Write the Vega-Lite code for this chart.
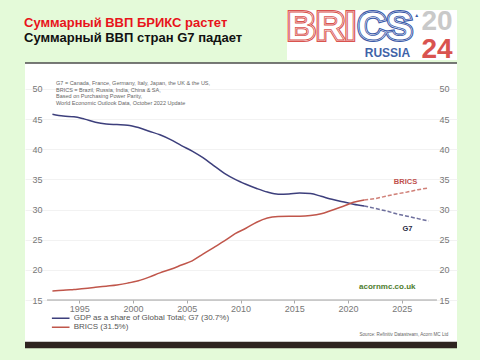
{
 "$schema": "https://vega.github.io/schema/vega-lite/v6.json",
 "width": 432, "height": 285,
 "autosize": {"type": "none"},
 "padding": {"left": 25, "top": 63, "right": 23, "bottom": 12},
 "background": "#e4fad9",
 "config": {"view": {"fill": "white", "stroke": null}, "font": "Liberation Sans"},
 "datasets": {
  "gdp": [
   {"date":"1992-07-01","series":"G7","value":45.8},{"date":"1993-07-01","series":"G7","value":45.5},{"date":"1994-07-01","series":"G7","value":45.4},{"date":"1995-07-01","series":"G7","value":45.0},{"date":"1996-07-01","series":"G7","value":44.5},{"date":"1997-07-01","series":"G7","value":44.2},{"date":"1998-07-01","series":"G7","value":44.1},{"date":"1999-07-01","series":"G7","value":44.0},{"date":"2000-07-01","series":"G7","value":43.6},{"date":"2001-07-01","series":"G7","value":43.0},{"date":"2002-07-01","series":"G7","value":42.4},{"date":"2003-07-01","series":"G7","value":41.6},{"date":"2004-07-01","series":"G7","value":40.6},{"date":"2005-07-01","series":"G7","value":39.7},{"date":"2006-07-01","series":"G7","value":38.6},{"date":"2007-07-01","series":"G7","value":37.3},{"date":"2008-07-01","series":"G7","value":36.0},{"date":"2009-07-01","series":"G7","value":35.0},{"date":"2010-07-01","series":"G7","value":34.2},{"date":"2011-07-01","series":"G7","value":33.5},{"date":"2012-07-01","series":"G7","value":32.9},{"date":"2013-07-01","series":"G7","value":32.55},{"date":"2014-07-01","series":"G7","value":32.6},{"date":"2015-07-01","series":"G7","value":32.75},{"date":"2016-07-01","series":"G7","value":32.65},{"date":"2017-07-01","series":"G7","value":32.2},{"date":"2018-07-01","series":"G7","value":31.7},{"date":"2019-07-01","series":"G7","value":31.3},{"date":"2020-07-01","series":"G7","value":30.9},{"date":"2021-07-01","series":"G7","value":30.6},{"date":"2022-07-01","series":"G7","value":30.2},{"date":"2023-07-01","series":"G7","value":29.8},{"date":"2024-07-01","series":"G7","value":29.3},{"date":"2025-07-01","series":"G7","value":28.9},{"date":"2026-07-01","series":"G7","value":28.5},{"date":"2027-07-01","series":"G7","value":28.1},
   {"date":"1992-07-01","series":"BRICS","value":16.5},{"date":"1993-07-01","series":"BRICS","value":16.6},{"date":"1994-07-01","series":"BRICS","value":16.75},{"date":"1995-07-01","series":"BRICS","value":16.9},{"date":"1996-07-01","series":"BRICS","value":17.1},{"date":"1997-07-01","series":"BRICS","value":17.3},{"date":"1998-07-01","series":"BRICS","value":17.5},{"date":"1999-07-01","series":"BRICS","value":17.8},{"date":"2000-07-01","series":"BRICS","value":18.2},{"date":"2001-07-01","series":"BRICS","value":18.8},{"date":"2002-07-01","series":"BRICS","value":19.5},{"date":"2003-07-01","series":"BRICS","value":20.1},{"date":"2004-07-01","series":"BRICS","value":20.8},{"date":"2005-07-01","series":"BRICS","value":21.5},{"date":"2006-07-01","series":"BRICS","value":22.6},{"date":"2007-07-01","series":"BRICS","value":23.7},{"date":"2008-07-01","series":"BRICS","value":24.8},{"date":"2009-07-01","series":"BRICS","value":26.0},{"date":"2010-07-01","series":"BRICS","value":26.9},{"date":"2011-07-01","series":"BRICS","value":27.9},{"date":"2012-07-01","series":"BRICS","value":28.6},{"date":"2013-07-01","series":"BRICS","value":28.85},{"date":"2014-07-01","series":"BRICS","value":28.9},{"date":"2015-07-01","series":"BRICS","value":28.9},{"date":"2016-07-01","series":"BRICS","value":29.0},{"date":"2017-07-01","series":"BRICS","value":29.3},{"date":"2018-07-01","series":"BRICS","value":29.9},{"date":"2019-07-01","series":"BRICS","value":30.5},{"date":"2020-07-01","series":"BRICS","value":31.2},{"date":"2021-07-01","series":"BRICS","value":31.6},{"date":"2022-07-01","series":"BRICS","value":31.8},{"date":"2023-07-01","series":"BRICS","value":32.2},{"date":"2024-07-01","series":"BRICS","value":32.6},{"date":"2025-07-01","series":"BRICS","value":32.9},{"date":"2026-07-01","series":"BRICS","value":33.3},{"date":"2027-07-01","series":"BRICS","value":33.6}
  ]
 },
 "resolve": {"axis": {"x": "independent", "y": "independent"}, "legend": {"color": "independent"}},
 "layer": [
  {
   "data": {"name": "gdp"},
   "transform": [{"filter": "year(datum.date) <= 2021"}],
   "mark": {"type": "line", "strokeWidth": 1.5, "interpolate": "monotone"},
   "encoding": {
    "x": {"field": "date", "type": "temporal", "scale": {"domain": [{"year":1989,"month":12,"date":12},{"year":2030,"month":2,"date":18}], "nice": false},
      "axis": {"orient": "bottom", "offset": -48, "values": [{"year":1995},{"year":2000},{"year":2005},{"year":2010},{"year":2015},{"year":2020},{"year":2025}], "format": "%Y", "domain": false, "tickSize": 3, "tickColor": "#aaaaaa", "labelPadding": 1, "labelFontSize": 9, "labelColor": "#777777", "labelFont": "Liberation Sans", "grid": false, "title": null}},
    "y": {"field": "value", "type": "quantitative", "scale": {"domain": [7.04, 54.31], "nice": false, "zero": false},
      "axis": {"orient": "left", "offset": -20, "values": [15,20,25,30,35,40,45,50], "domain": false, "ticks": false, "labelPadding": 3, "labelFontSize": 9, "labelColor": "#777777", "labelFont": "Liberation Sans", "grid": true, "gridColor": "#f2f2f2", "title": null}},
    "color": {"field": "series", "type": "nominal", "scale": {"domain": ["G7", "BRICS"], "range": ["#3d3f7c", "#c0564b"]},
      "legend": {"orient": "none", "legendX": 25.7, "legendY": 251.5, "direction": "vertical", "title": null, "symbolType": "stroke", "symbolSize": 310, "symbolStrokeWidth": 1.5, "clipHeight": 7.5, "rowPadding": 0, "padding": 0, "labelOffset": 3, "labelFontSize": 8, "labelColor": "#555555", "labelFont": "Liberation Sans",
        "labelExpr": "datum.label == 'G7' ? 'GDP as a share of Global Total; G7 (30.7%)' : 'BRICS (31.5%)'"}}
   }
  },
  {
   "data": {"name": "gdp"},
   "transform": [{"filter": "year(datum.date) >= 2021"}],
   "mark": {"type": "line", "strokeWidth": 1.5, "strokeDash": [4, 2], "opacity": 0.75},
   "encoding": {
    "x": {"field": "date", "type": "temporal", "scale": {"domain": [{"year":1989,"month":12,"date":12},{"year":2030,"month":2,"date":18}], "nice": false}, "axis": null},
    "y": {"field": "value", "type": "quantitative", "scale": {"domain": [7.04, 54.31], "nice": false, "zero": false},
      "axis": {"orient": "right", "offset": -20, "values": [15,20,25,30,35,40,45,50], "domain": false, "ticks": false, "labelPadding": 2, "labelFontSize": 9, "labelColor": "#777777", "labelFont": "Liberation Sans", "grid": false, "title": null}},
    "color": {"field": "series", "type": "nominal", "scale": {"domain": ["G7", "BRICS"], "range": ["#3d3f7c", "#c0564b"]}, "legend": null}
   }
  },
  {
   "data": {"values": [{}]},
   "mark": {"type": "rule", "stroke": "#a0a0a0", "strokeWidth": 1},
   "encoding": {
    "x": {"datum": {"year":1992,"month":1,"date":1}, "type": "temporal", "scale": {"domain": [{"year":1989,"month":12,"date":12},{"year":2030,"month":2,"date":18}], "nice": false}, "axis": null},
    "x2": {"datum": {"year":2028,"month":4,"date":7}},
    "y": {"datum": 15, "type": "quantitative", "scale": {"domain": [7.04, 54.31], "nice": false, "zero": false}, "axis": null}
   }
  },
  {
   "data": {"values": [{}]},
   "mark": {"type": "rule", "stroke": "#4d4d4d", "strokeWidth": 1.5},
   "encoding": {
    "x": {"datum": {"year":1989,"month":12,"date":12}, "type": "temporal", "scale": {"domain": [{"year":1989,"month":12,"date":12},{"year":2030,"month":2,"date":18}], "nice": false}, "axis": null},
    "x2": {"datum": {"year":2030,"month":2,"date":18}},
    "y": {"datum": 54.31, "type": "quantitative", "scale": {"domain": [7.04, 54.31], "nice": false, "zero": false}, "axis": null}
   }
  },
  {
   "data": {"values": [{}]},
   "mark": {"type": "rect", "fill": "#2e2420"},
   "encoding": {
    "x": {"datum": {"year":1989,"month":12,"date":12}, "type": "temporal", "scale": {"domain": [{"year":1989,"month":12,"date":12},{"year":2030,"month":2,"date":18}], "nice": false}, "axis": null},
    "x2": {"datum": {"year":2030,"month":2,"date":18}},
    "y": {"datum": 8.08, "type": "quantitative", "scale": {"domain": [7.04, 54.31], "nice": false, "zero": false}, "axis": null},
    "y2": {"datum": 7.0}
   }
  },
  {
   "data": {"values": [{}]},
   "mark": {"type": "rect", "fill": "white"},
   "encoding": {
    "x": {"datum": {"year":2014,"month":4,"date":27}, "type": "temporal", "scale": {"domain": [{"year":1989,"month":12,"date":12},{"year":2030,"month":2,"date":18}], "nice": false}, "axis": null},
    "x2": {"datum": {"year":2030,"month":2,"date":18}},
    "y": {"datum": 54.81, "type": "quantitative", "scale": {"domain": [7.04, 54.31], "nice": false, "zero": false}, "axis": null},
    "y2": {"datum": 63.1}
   }
  },
  {
   "data": {"values": [{}]},
   "mark": {"type": "text", "text": "BRI", "align": "left", "baseline": "bottom", "fontSize": 40, "fontWeight": "bold", "font": "Liberation Sans", "fill": "#d9534f", "stroke": "#d9534f", "strokeWidth": 4},
   "encoding": {
    "x": {"datum": {"year":2014,"month":4,"date":27}, "type": "temporal", "scale": {"domain": [{"year":1989,"month":12,"date":12},{"year":2030,"month":2,"date":18}], "nice": false}, "axis": null},
    "y": {"datum": 56.8, "type": "quantitative", "scale": {"domain": [7.04, 54.31], "nice": false, "zero": false}, "axis": null}
   }
  },
  {
   "data": {"values": [{}]},
   "mark": {"type": "text", "text": "CS", "align": "right", "baseline": "bottom", "fontSize": 40, "fontWeight": "bold", "font": "Liberation Sans", "fill": "#3c5ba9", "stroke": "#3c5ba9", "strokeWidth": 4},
   "encoding": {
    "x": {"datum": {"year":2026,"month":1,"date":15}, "type": "temporal", "scale": {"domain": [{"year":1989,"month":12,"date":12},{"year":2030,"month":2,"date":18}], "nice": false}, "axis": null},
    "y": {"datum": 56.8, "type": "quantitative", "scale": {"domain": [7.04, 54.31], "nice": false, "zero": false}, "axis": null}
   }
  },
  {
   "data": {"values": [{}]},
   "mark": {"type": "text", "text": "BRI", "align": "left", "baseline": "bottom", "fontSize": 40, "fontWeight": "bold", "font": "Liberation Sans", "fill": "white", "stroke": "white", "strokeWidth": 1.6},
   "encoding": {
    "x": {"datum": {"year":2014,"month":4,"date":27}, "type": "temporal", "scale": {"domain": [{"year":1989,"month":12,"date":12},{"year":2030,"month":2,"date":18}], "nice": false}, "axis": null},
    "y": {"datum": 56.8, "type": "quantitative", "scale": {"domain": [7.04, 54.31], "nice": false, "zero": false}, "axis": null}
   }
  },
  {
   "data": {"values": [{}]},
   "mark": {"type": "text", "text": "CS", "align": "right", "baseline": "bottom", "fontSize": 40, "fontWeight": "bold", "font": "Liberation Sans", "fill": "white", "stroke": "white", "strokeWidth": 1.6},
   "encoding": {
    "x": {"datum": {"year":2026,"month":1,"date":15}, "type": "temporal", "scale": {"domain": [{"year":1989,"month":12,"date":12},{"year":2030,"month":2,"date":18}], "nice": false}, "axis": null},
    "y": {"datum": 56.8, "type": "quantitative", "scale": {"domain": [7.04, 54.31], "nice": false, "zero": false}, "axis": null}
   }
  },
  {
   "data": {"values": [{}]},
   "mark": {"type": "text", "text": "BRI", "align": "left", "baseline": "bottom", "fontSize": 40, "fontWeight": "bold", "font": "Liberation Sans", "fill": "transparent", "stroke": "#d9534f", "strokeWidth": 0.8},
   "encoding": {
    "x": {"datum": {"year":2014,"month":4,"date":27}, "type": "temporal", "scale": {"domain": [{"year":1989,"month":12,"date":12},{"year":2030,"month":2,"date":18}], "nice": false}, "axis": null},
    "y": {"datum": 56.8, "type": "quantitative", "scale": {"domain": [7.04, 54.31], "nice": false, "zero": false}, "axis": null}
   }
  },
  {
   "data": {"values": [{}]},
   "mark": {"type": "text", "text": "CS", "align": "right", "baseline": "bottom", "fontSize": 40, "fontWeight": "bold", "font": "Liberation Sans", "fill": "transparent", "stroke": "#3c5ba9", "strokeWidth": 0.8},
   "encoding": {
    "x": {"datum": {"year":2026,"month":1,"date":15}, "type": "temporal", "scale": {"domain": [{"year":1989,"month":12,"date":12},{"year":2030,"month":2,"date":18}], "nice": false}, "axis": null},
    "y": {"datum": 56.8, "type": "quantitative", "scale": {"domain": [7.04, 54.31], "nice": false, "zero": false}, "axis": null}
   }
  },
  {
   "data": {"values": [{}]},
   "mark": {"type": "text", "text": "▲", "align": "center", "baseline": "middle", "fontSize": 5, "fill": "#3c5ba9"},
   "encoding": {
    "x": {"datum": {"year":2026,"month":5,"date":25}, "type": "temporal", "scale": {"domain": [{"year":1989,"month":12,"date":12},{"year":2030,"month":2,"date":18}], "nice": false}, "axis": null},
    "y": {"datum": 62.27, "type": "quantitative", "scale": {"domain": [7.04, 54.31], "nice": false, "zero": false}, "axis": null}
   }
  },
  {
   "data": {"values": [{}]},
   "mark": {"type": "text", "text": "20", "align": "center", "baseline": "bottom", "fontSize": 28, "fontWeight": "bold", "font": "Liberation Sans", "fill": "#c9c9c9"},
   "encoding": {
    "x": {"datum": {"year":2028,"month":4,"date":8}, "type": "temporal", "scale": {"domain": [{"year":1989,"month":12,"date":12},{"year":2030,"month":2,"date":18}], "nice": false}, "axis": null},
    "y": {"datum": 58.79, "type": "quantitative", "scale": {"domain": [7.04, 54.31], "nice": false, "zero": false}, "axis": null}
   }
  },
  {
   "data": {"values": [{}]},
   "mark": {"type": "text", "text": "24", "align": "center", "baseline": "top", "fontSize": 28, "fontWeight": "bold", "font": "Liberation Sans", "fill": "#d9534f"},
   "encoding": {
    "x": {"datum": {"year":2028,"month":4,"date":8}, "type": "temporal", "scale": {"domain": [{"year":1989,"month":12,"date":12},{"year":2030,"month":2,"date":18}], "nice": false}, "axis": null},
    "y": {"datum": 58.71, "type": "quantitative", "scale": {"domain": [7.04, 54.31], "nice": false, "zero": false}, "axis": null}
   }
  },
  {
   "data": {"values": [{}]},
   "mark": {"type": "text", "text": "RUSSIA", "align": "center", "baseline": "top", "fontSize": 12, "fontWeight": "bold", "font": "Liberation Sans", "fill": "#3f63a8"},
   "encoding": {
    "x": {"datum": {"year":2023,"month":8,"date":29}, "type": "temporal", "scale": {"domain": [{"year":1989,"month":12,"date":12},{"year":2030,"month":2,"date":18}], "nice": false}, "axis": null},
    "y": {"datum": 56.715, "type": "quantitative", "scale": {"domain": [7.04, 54.31], "nice": false, "zero": false}, "axis": null}
   }
  },
  {
   "data": {"values": [{}]},
   "mark": {"type": "text", "text": "Суммарный ВВП БРИКС растет", "align": "left", "baseline": "alphabetic", "fontSize": 13, "fontWeight": "bold", "font": "Liberation Sans", "fill": "#e8141b"},
   "encoding": {
    "x": {"datum": {"year":1989,"month":11,"date":8}, "type": "temporal", "scale": {"domain": [{"year":1989,"month":12,"date":12},{"year":2030,"month":2,"date":18}], "nice": false}, "axis": null},
    "y": {"datum": 60.23, "type": "quantitative", "scale": {"domain": [7.04, 54.31], "nice": false, "zero": false}, "axis": null}
   }
  },
  {
   "data": {"values": [{}]},
   "mark": {"type": "text", "text": "Суммарный ВВП стран G7 падает", "align": "left", "baseline": "alphabetic", "fontSize": 13, "fontWeight": "bold", "font": "Liberation Sans", "fill": "#111111"},
   "encoding": {
    "x": {"datum": {"year":1989,"month":11,"date":8}, "type": "temporal", "scale": {"domain": [{"year":1989,"month":12,"date":12},{"year":2030,"month":2,"date":18}], "nice": false}, "axis": null},
    "y": {"datum": 57.83, "type": "quantitative", "scale": {"domain": [7.04, 54.31], "nice": false, "zero": false}, "axis": null}
   }
  },
  {
   "data": {"values": [{}]},
   "mark": {"type": "text", "text": ["G7 = Canada, France, Germany, Italy, Japan, the UK & the US,", "BRICS = Brazil, Russia, India, China & SA,", "Based on Purchasing Power Parity,", "World Economic Outlook Data, October 2022 Update"], "align": "left", "baseline": "top", "fontSize": 5.5, "lineHeight": 6.5, "font": "Liberation Sans", "fill": "#666666"},
   "encoding": {
    "x": {"datum": {"year":1992,"month":10,"date":31}, "type": "temporal", "scale": {"domain": [{"year":1989,"month":12,"date":12},{"year":2030,"month":2,"date":18}], "nice": false}, "axis": null},
    "y": {"datum": 51.27, "type": "quantitative", "scale": {"domain": [7.04, 54.31], "nice": false, "zero": false}, "axis": null}
   }
  },
  {
   "data": {"values": [{}]},
   "mark": {"type": "text", "text": "acornmc.co.uk", "align": "left", "baseline": "middle", "fontSize": 8, "fontWeight": "bold", "font": "Liberation Sans", "fill": "#4e7d2e"},
   "encoding": {
    "x": {"datum": {"year":2021,"month":1,"date":8}, "type": "temporal", "scale": {"domain": [{"year":1989,"month":12,"date":12},{"year":2030,"month":2,"date":18}], "nice": false}, "axis": null},
    "y": {"datum": 17.11, "type": "quantitative", "scale": {"domain": [7.04, 54.31], "nice": false, "zero": false}, "axis": null}
   }
  },
  {
   "data": {"values": [{}]},
   "mark": {"type": "text", "text": "Source: Refinitiv Datastream, Acorn MC Ltd", "align": "right", "baseline": "middle", "fontSize": 4.6, "font": "Liberation Sans", "fill": "#666666"},
   "encoding": {
    "x": {"datum": {"year":2029,"month":4,"date":29}, "type": "temporal", "scale": {"domain": [{"year":1989,"month":12,"date":12},{"year":2030,"month":2,"date":18}], "nice": false}, "axis": null},
    "y": {"datum": 9.15, "type": "quantitative", "scale": {"domain": [7.04, 54.31], "nice": false, "zero": false}, "axis": null}
   }
  },
  {
   "data": {"values": [{}]},
   "mark": {"type": "text", "text": "BRICS", "align": "center", "baseline": "middle", "fontSize": 7.5, "fontWeight": "bold", "font": "Liberation Sans", "fill": "#c0504d"},
   "encoding": {
    "x": {"datum": {"year":2025,"month":5,"date":6}, "type": "temporal", "scale": {"domain": [{"year":1989,"month":12,"date":12},{"year":2030,"month":2,"date":18}], "nice": false}, "axis": null},
    "y": {"datum": 34.49, "type": "quantitative", "scale": {"domain": [7.04, 54.31], "nice": false, "zero": false}, "axis": null}
   }
  },
  {
   "data": {"values": [{}]},
   "mark": {"type": "text", "text": "G7", "align": "center", "baseline": "middle", "fontSize": 7.5, "fontWeight": "bold", "font": "Liberation Sans", "fill": "#2b2b45"},
   "encoding": {
    "x": {"datum": {"year":2025,"month":7,"date":13}, "type": "temporal", "scale": {"domain": [{"year":1989,"month":12,"date":12},{"year":2030,"month":2,"date":18}], "nice": false}, "axis": null},
    "y": {"datum": 26.78, "type": "quantitative", "scale": {"domain": [7.04, 54.31], "nice": false, "zero": false}, "axis": null}
   }
  }
 ]
}
